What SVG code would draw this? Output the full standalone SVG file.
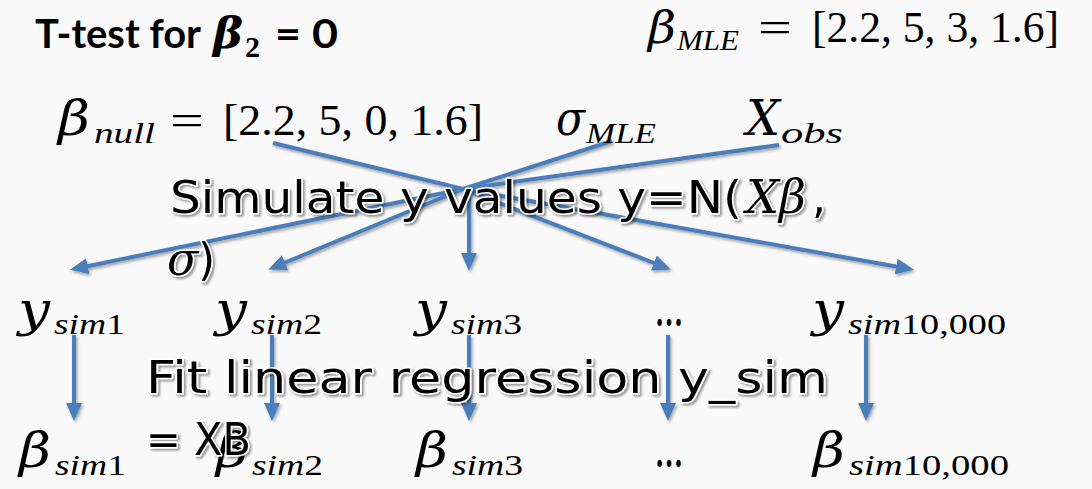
<svg xmlns="http://www.w3.org/2000/svg" width="1092" height="489" viewBox="0 0 1092 489">
<defs>
<style>
.bg{fill:#f9f9f9}
.m{font-family:"Liberation Serif","DejaVu Serif",serif;font-size:44px;fill:#000}
.v{font-family:"DejaVu Serif","Liberation Serif",serif;font-style:italic;font-size:48px;fill:#000}
.i{font-style:italic}
.sub{font-size:30px}
.t{font-family:Lato,"Open Sans","Liberation Sans",sans-serif;font-weight:bold;font-size:40px;fill:#000}
.big{font-family:"DejaVu Sans","Noto Sans",sans-serif;font-size:44px;fill:#000;stroke:#fff;stroke-width:3px;paint-order:stroke;stroke-linejoin:round}
.bigm{font-family:"DejaVu Serif","Liberation Serif",serif;font-style:italic;font-size:46px;fill:#000;stroke:#fff;stroke-width:3px;paint-order:stroke;stroke-linejoin:round}
.ln{stroke:#4a7ebb;stroke-width:4;fill:none}
.ar{marker-end:url(#ah)}
</style>
<marker id="ah" markerUnits="userSpaceOnUse" markerWidth="18" markerHeight="16" refX="14" refY="8" orient="auto">
<path d="M0,0 L18,8 L0,16 z" fill="#4a7ebb"/>
</marker>
<filter id="sh" x="-10%" y="-20%" width="120%" height="150%">
<feDropShadow dx="1.5" dy="2" stdDeviation="1.5" flood-color="#000" flood-opacity="0.35"/>
</filter>
<filter id="tsh" x="-5%" y="-20%" width="110%" height="150%">
<feDropShadow dx="2" dy="2" stdDeviation="1.2" flood-color="#000" flood-opacity="0.4"/>
</filter>
</defs>
<rect class="bg" x="0" y="0" width="1092" height="489"/>

<g id="connectors" filter="url(#sh)">
<line class="ln" x1="273" y1="143" x2="463" y2="189"/>
<line class="ln" x1="612" y1="141" x2="463" y2="189"/>
<line class="ln" x1="779" y1="145" x2="463" y2="189"/>
<line class="ln ar" x1="463" y1="189" x2="74" y2="269"/>
<line class="ln ar" x1="463" y1="189" x2="272" y2="268"/>
<line class="ln ar" x1="469" y1="189" x2="469" y2="267"/>
<line class="ln ar" x1="463" y1="189" x2="667" y2="268"/>
<line class="ln ar" x1="463" y1="189" x2="910" y2="269"/>
<line class="ln ar" x1="74" y1="335" x2="74" y2="417"/>
<line class="ln ar" x1="272" y1="335" x2="272" y2="417"/>
<line class="ln ar" x1="469" y1="335" x2="469" y2="417"/>
<line class="ln ar" x1="668" y1="335" x2="668" y2="417"/>
<line class="ln ar" x1="866" y1="335" x2="866" y2="417"/>
</g>

<g id="title">
<text class="t" x="35" y="48" textLength="166" lengthAdjust="spacingAndGlyphs">T-test for</text>
<text class="v" x="213" y="48" textLength="30" lengthAdjust="spacingAndGlyphs" style="font-weight:bold;font-size:42px">β</text>
<text class="m" x="245" y="57" style="font-weight:bold;font-size:30px">2</text>
<text class="t" x="275" y="48" textLength="63" lengthAdjust="spacingAndGlyphs">= 0</text>
</g>

<g id="beta_mle">
<text class="v" x="648" y="43" textLength="28" lengthAdjust="spacingAndGlyphs" style="font-size:44px">β</text>
<text class="m i sub" x="677" y="50" textLength="62" lengthAdjust="spacingAndGlyphs">MLE</text>
<text class="m" x="758" y="42" textLength="34" lengthAdjust="spacingAndGlyphs">=</text>
<text class="m" x="812" y="42" textLength="247" lengthAdjust="spacingAndGlyphs">[2.2, 5, 3, 1.6]</text>
</g>

<g id="beta_null">
<text class="v" x="58" y="135" textLength="32" lengthAdjust="spacingAndGlyphs">β</text>
<text class="m i sub" x="94" y="143" textLength="61" lengthAdjust="spacingAndGlyphs">null</text>
<text class="m" x="170" y="135" textLength="34" lengthAdjust="spacingAndGlyphs">=</text>
<text class="m" x="223" y="135" textLength="260" lengthAdjust="spacingAndGlyphs">[2.2, 5, 0, 1.6]</text>
</g>

<g id="sigma_mle">
<text class="v" x="556" y="135" textLength="29" lengthAdjust="spacingAndGlyphs">σ</text>
<text class="m i sub" x="586" y="143" textLength="70" lengthAdjust="spacingAndGlyphs">MLE</text>
</g>

<g id="x_obs">
<text class="v" x="746" y="135" textLength="34" lengthAdjust="spacingAndGlyphs">X</text>
<text class="m i sub" x="781" y="143" textLength="62" lengthAdjust="spacingAndGlyphs">obs</text>
</g>

<g id="simulate" filter="url(#tsh)">
<text class="big" x="170" y="213" textLength="572" lengthAdjust="spacingAndGlyphs">Simulate y values y=N(</text>
<text class="bigm" x="746" y="213" textLength="60" lengthAdjust="spacingAndGlyphs">Xβ</text>
<text class="big" x="812" y="213">,</text>
<text class="bigm" x="167" y="275">σ</text>
<text class="big" x="198" y="275">)</text>
</g>

<g id="y_sim1"><text class="v" x="18" y="326" textLength="32" lengthAdjust="spacingAndGlyphs">y</text><text class="m i sub" x="54" y="334" textLength="71" lengthAdjust="spacingAndGlyphs">sim<tspan font-style="normal">1</tspan></text></g>
<g id="y_sim2"><text class="v" x="215" y="326" textLength="32" lengthAdjust="spacingAndGlyphs">y</text><text class="m i sub" x="251" y="334" textLength="71" lengthAdjust="spacingAndGlyphs">sim<tspan font-style="normal">2</tspan></text></g>
<g id="y_sim3"><text class="v" x="415" y="326" textLength="32" lengthAdjust="spacingAndGlyphs">y</text><text class="m i sub" x="451" y="334" textLength="71" lengthAdjust="spacingAndGlyphs">sim<tspan font-style="normal">3</tspan></text></g>
<g id="y_dots"><text class="m" x="655" y="326" textLength="28" lengthAdjust="spacingAndGlyphs" style="font-weight:bold">…</text></g>
<g id="y_sim10000"><text class="v" x="812" y="326" textLength="32" lengthAdjust="spacingAndGlyphs">y</text><text class="m i sub" x="848" y="334" textLength="158" lengthAdjust="spacingAndGlyphs">sim<tspan font-style="normal">10,000</tspan></text></g>

<g id="b_sim1"><text class="v" x="19" y="467" textLength="32" lengthAdjust="spacingAndGlyphs">β</text><text class="m i sub" x="55" y="475" textLength="71" lengthAdjust="spacingAndGlyphs">sim<tspan font-style="normal">1</tspan></text></g>
<g id="b_sim2"><text class="v" x="216" y="467" textLength="32" lengthAdjust="spacingAndGlyphs">β</text><text class="m i sub" x="252" y="475" textLength="71" lengthAdjust="spacingAndGlyphs">sim<tspan font-style="normal">2</tspan></text></g>
<g id="b_sim3"><text class="v" x="416" y="467" textLength="32" lengthAdjust="spacingAndGlyphs">β</text><text class="m i sub" x="452" y="475" textLength="71" lengthAdjust="spacingAndGlyphs">sim<tspan font-style="normal">3</tspan></text></g>
<g id="b_dots"><text class="m" x="655" y="467" textLength="28" lengthAdjust="spacingAndGlyphs" style="font-weight:bold">…</text></g>
<g id="b_sim10000"><text class="v" x="813" y="467" textLength="32" lengthAdjust="spacingAndGlyphs">β</text><text class="m i sub" x="849" y="475" textLength="160" lengthAdjust="spacingAndGlyphs">sim<tspan font-style="normal">10,000</tspan></text></g>

<g id="fit" filter="url(#tsh)">
<text class="big" x="146" y="393" textLength="682" lengthAdjust="spacingAndGlyphs">Fit linear regression y_sim</text>
<text class="big" x="146" y="455" textLength="105" lengthAdjust="spacingAndGlyphs">= XB</text>
</g>
</svg>
